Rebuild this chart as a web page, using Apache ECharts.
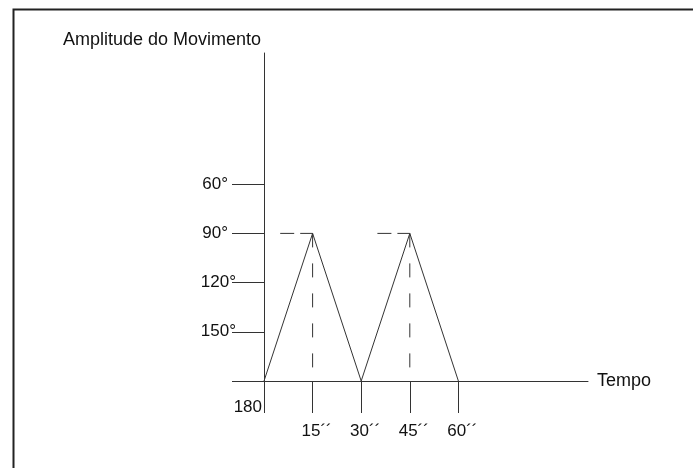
<!DOCTYPE html>
<html>
<head>
<meta charset="utf-8">
<script src="https://cdn.jsdelivr.net/npm/echarts@6/dist/echarts.min.js"></script>
<style>
  html, body { margin: 0; padding: 0; background: #fff; }
  #chart { width: 693px; height: 468px; }
</style>
</head>
<body>
<div id="chart"></div>
<script>
// Time axis (seconds) and range-of-motion axis (degrees)
const timeTicks = [0, 15, 30, 45, 60];
const timeLabels = [15, 30, 45, 60];
const angleTicks = [60, 90, 120, 150, 180];
const angleLabels = [60, 90, 120, 150];

// Movement cycle: full extension (180) -> peak flexion (90) -> back
const cycleTime = [0, 15, 30, 45, 60];
const cycleAngle = [180, 90, 180, 90, 180];

// Peaks marked with dashed guides
const peakTime = [15, 45];
const peakAngle = [90, 90];
const guideStart = [5, 35];

const INK = '#333';
const FONT = 'Liberation Sans, Arial, sans-serif';

const cycleData = cycleTime.map((t, i) => [t, cycleAngle[i]]);
const hGuides = [];
const vGuides = [];
peakTime.forEach((t, i) => {
  hGuides.push([guideStart[i], peakAngle[i]], [t, peakAngle[i]], [null, null]);
  vGuides.push([t, peakAngle[i]], [t, 180], [null, null]);
});

const labelText = { fontFamily: FONT, fontSize: 17, color: '#111' };

const chart = echarts.init(document.getElementById('chart'));
chart.setOption({
  animation: false,
  backgroundColor: '#fff',
  title: {
    text: 'Amplitude do Movimento',
    left: 63,
    top: 31,
    padding: 0,
    textStyle: { fontFamily: FONT, fontSize: 18, fontWeight: 'normal', color: '#111' }
  },
  graphic: [{
    type: 'rect',
    left: 11,
    top: 7,
    shape: { width: 800, height: 600 },
    style: { fill: 'none', stroke: '#222', lineWidth: 2 },
    silent: true
  }],
  grid: { left: 264, top: 53, right: 105, bottom: 87 },
  xAxis: {
    type: 'value',
    min: 0,
    max: 100,
    name: 'Tempo',
    nameLocation: 'end',
    nameGap: 9,
    nameTextStyle: { fontFamily: FONT, fontSize: 18, color: '#111' },
    axisLine: { onZero: false, lineStyle: { color: INK, width: 1 } },
    axisTick: { show: true, customValues: timeTicks, length: 32, lineStyle: { color: INK, width: 1 } },
    axisLabel: {
      customValues: timeLabels,
      formatter: v => '{t|' + v + '´´}',
      margin: 42,
      rich: { t: Object.assign({ padding: [0, 0, 0, 8] }, labelText) }
    },
    splitLine: { show: false }
  },
  yAxis: [{
    type: 'value',
    inverse: true,
    min: -20,
    max: 180,
    axisLine: { show: true, onZero: false, lineStyle: { color: INK, width: 1 } },
    axisTick: { show: true, customValues: angleTicks, length: 32, lineStyle: { color: INK, width: 1 } },
    axisLabel: {
      customValues: angleLabels,
      formatter: v => (v >= 120 ? '{n|' : '{w|') + v + '°}',
      margin: 28,
      rich: {
        n: Object.assign({}, labelText),
        w: Object.assign({ padding: [0, 8, 0, 0] }, labelText)
      }
    },
    splitLine: { show: false }
  }, {
    // origin label sits just below the time axis, left of the angle axis
    type: 'value',
    inverse: true,
    min: -20,
    max: 180,
    position: 'left',
    offset: 0,
    axisLine: { show: false },
    axisTick: { show: false },
    axisLabel: {
      customValues: [180],
      formatter: v => '{o|' + v + '}',
      margin: 2,
      rich: { o: Object.assign({ padding: [52, 0, 0, 0] }, labelText) }
    },
    splitLine: { show: false }
  }],
  series: [{
    type: 'line',
    data: cycleData,
    showSymbol: false,
    lineStyle: { color: INK, width: 1 },
    z: 3
  }, {
    type: 'line',
    data: hGuides,
    showSymbol: false,
    connectNulls: false,
    lineStyle: { color: INK, width: 1, type: [14, 6] }
  }, {
    type: 'line',
    data: vGuides,
    showSymbol: false,
    connectNulls: false,
    lineStyle: { color: INK, width: 1, type: [14, 16] }
  }]
});
</script>
</body>
</html>
